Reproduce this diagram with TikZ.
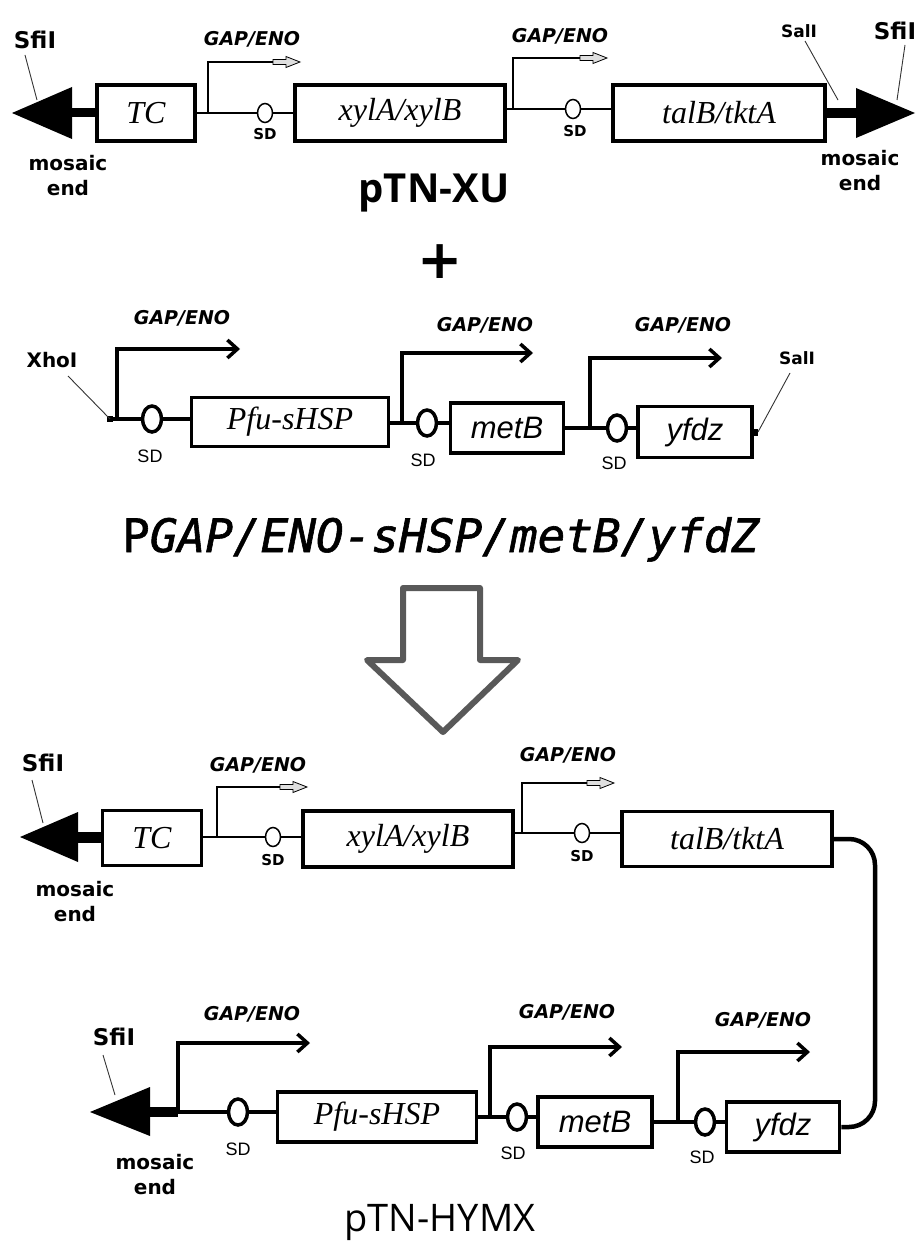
\documentclass[tikz,border=0pt]{standalone}
\usepackage{fontspec}
\setmainfont{Liberation Serif}
\newfontfamily\labfont{DejaVu Sans}
\newfontfamily\openfont{Open Sans}
\newfontfamily\monofont{DejaVu Sans Mono}
\newfontfamily\arialfont{Liberation Sans}
\usetikzlibrary{arrows.meta,shapes.geometric,calc}
\begin{document}
\begin{tikzpicture}[x=1pt,y=-1pt,
  genebox/.style={draw, line width=3.5pt, inner sep=0pt, font=\fontsize{32}{32}\selectfont\itshape},
  sgenebox/.style={genebox, font=\arialfont\fontsize{31}{31}\selectfont\itshape},
  sdA/.style={draw, ellipse, line width=1.5pt, minimum width=15pt, minimum height=19pt, inner sep=0pt},
  sdB/.style={draw, ellipse, line width=3.5pt, minimum width=19pt, minimum height=26pt, inner sep=0pt},
  thinbb/.style={line width=2pt},
  thickbb/.style={line width=4pt},
  prothin/.style={line width=1.5pt},
  prothick/.style={line width=3.5pt, -{Straight Barb[length=10pt,width=18pt]}},
  gaplab/.style={font=\labfont\bfseries\itshape\fontsize{19}{19}\selectfont},
  sdsmall/.style={font=\labfont\bfseries\fontsize{15}{15}\selectfont},
  sdlab/.style={font=\arialfont\fontsize{18}{18}\selectfont},
  sitelab/.style={font=\labfont\bfseries\fontsize{23}{23}\selectfont},
  smallsite/.style={font=\labfont\bfseries\fontsize{17}{17}\selectfont},
  moslab/.style={font=\labfont\bfseries\fontsize{20}{25}\selectfont, align=center},
  ptr/.style={line width=0.9pt, draw=black!80},
  hollowarrow/.pic={\draw[line width=0.8pt, fill=gray!25] (0,-2.5)--(13,-2.5)--(13,-5.5)--(27,0)--(13,5.5)--(13,2.5)--(0,2.5)--cycle;},
]
\fill[white] (0,0) rectangle (919,1244);
\useasboundingbox (0,0) rectangle (919,1244);

% ================= Row 1: pTN-XU =================
\node[genebox, minimum width=98pt, minimum height=56pt] (tc1) at (146,113) {TC};
\node[genebox, minimum width=210pt, minimum height=56pt] (xyl1) at (400,113) {xylA/xylB};
\node[genebox, minimum width=212pt, minimum height=56pt] (tal1) at (719,113) {talB/tktA};
\node[sdA] (sd1a) at (265,113) {};
\node[sdA] (sd1b) at (573,109) {};
% left end
\coordinate (l1b) at (72,113);
\coordinate (l1t) at (12,113);
\fill (l1t) -- ($(l1b)+(0,-26)$) -- ($(l1b)+(0,26)$) -- cycle;
\draw[line width=9pt] (l1b) -- (tc1.west);
% right end
\coordinate (r1b) at (856,113);
\coordinate (r1t) at (915,113);
\fill (r1t) -- ($(r1b)+(0,-25)$) -- ($(r1b)+(0,25)$) -- cycle;
\draw[line width=10pt] (tal1.east) -- (r1b);
% backbone
\draw[thinbb] (tc1.east) -- (sd1a.west);
\draw[thinbb] (sd1a.east) -- (sd1a.east -| xyl1.west);
\draw[thinbb] (sd1b -| xyl1.east) -- (sd1b.west);
\draw[thinbb] (sd1b.east) -- (sd1b.east -| tal1.west);
% promoters
\coordinate (p1a) at (208,113); \coordinate (p1at) at (208,62); \coordinate (p1ah) at (273,62);
\draw[prothin] (p1a) -- (p1at) -- (p1ah);
\pic at (p1ah) {hollowarrow};
\coordinate (p1b) at (513,109); \coordinate (p1bt) at (513,58); \coordinate (p1bh) at (580,58);
\draw[prothin] (p1b) -- (p1bt) -- (p1bh);
\pic at (p1bh) {hollowarrow};
% labels
\node[gaplab] (g1a) at (252,39) {GAP/ENO};
\node[gaplab] (g1b) at (560,36) {GAP/ENO};
\node[sdsmall] (s1a) at (265,134) {SD};
\node[sdsmall] (s1b) at (575,131) {SD};
\node[sitelab] (sfi1l) at (35,40) {SfiI};
\node[sitelab] (sfi1r) at (895,31) {SfiI};
\node[smallsite] (sal1) at (799,31) {SalI};
\coordinate (sfi1lp) at (37,100);
\coordinate (sfi1rp) at (897,100);
\coordinate (sal1p) at (838,100);
\draw[ptr] (25,55) -- (sfi1lp);
\draw[ptr] (905,45) -- (sfi1rp);
\draw[ptr] (805,41) -- (sal1p);
\node[moslab] (me1l) at (68,176) {mosaic\\end};
\node[moslab] (me1r) at (860,171) {mosaic\\end};
\node[font=\openfont\bfseries\fontsize{40}{40}\selectfont, anchor=base] (ptnxu) at (434,202) {pTN-XU};

% plus
\node[font=\labfont\bfseries\fontsize{54}{54}\selectfont] (plus) at (440,262) {+};

% ================= Row 2: insert =================
\coordinate (xs) at (110,419);
\node[sdB] (sd2a) at (152,419) {};
\node[genebox, minimum width=197pt, minimum height=49pt] (pfu2) at (290,422) {Pfu-sHSP};
\node[sdB] (sd2b) at (427,423) {};
\node[sgenebox, minimum width=113pt, minimum height=50pt] (met2) at (507,428) {metB};
\node[sdB] (sd2c) at (617,428) {};
\node[sgenebox, minimum width=114pt, minimum height=51pt] (yf2) at (695,432) {yfdz};
\coordinate (salp2) at (758,432);
% backbone
\draw[thickbb] (xs) -- (sd2a.west);
\fill ($(xs)+(-3,-3)$) rectangle ($(xs)+(3,3)$);
\draw[thickbb] (sd2a.east) -- (sd2a.east -| pfu2.west);
\draw[thickbb] (sd2b -| pfu2.east) -- (sd2b.west);
\draw[thickbb] (sd2b.east) -- (sd2b.east -| met2.west);
\draw[thickbb] (sd2c -| met2.east) -- (sd2c.west);
\draw[thickbb] (sd2c.east) -- (sd2c.east -| yf2.west);
\draw[line width=7pt] (yf2.east) -- (salp2);
% promoters
\coordinate (p2a) at (117,419); \coordinate (p2at) at (117,349); \coordinate (p2ah) at (240,349);
\draw[prothick] (p2a) -- (p2at) -- (p2ah);
\coordinate (p2b) at (402,423); \coordinate (p2bt) at (402,353); \coordinate (p2bh) at (533,353);
\draw[prothick] (p2b) -- (p2bt) -- (p2bh);
\coordinate (p2c) at (590,428); \coordinate (p2ct) at (590,358); \coordinate (p2ch) at (722,358);
\draw[prothick] (p2c) -- (p2ct) -- (p2ch);
% labels
\node[gaplab] (g2a) at (182,318) {GAP/ENO};
\node[gaplab] (g2b) at (485,325) {GAP/ENO};
\node[gaplab] (g2c) at (683,325) {GAP/ENO};
\node[sdlab] (s2a) at (150,456) {SD};
\node[sdlab] (s2b) at (423,460) {SD};
\node[sdlab] (s2c) at (614,463) {SD};
\node[font=\labfont\bfseries\fontsize{20}{20}\selectfont] (xho) at (52,360) {XhoI};
\draw[ptr] (68,376) -- (xs);
\node[smallsite] (sal2) at (797,358) {SalI};
\draw[ptr] (790,373) -- (salp2);

% title
\node[anchor=base west, font=\monofont\addfontfeature{FakeBold=1.3}\fontsize{46}{46}\selectfont, inner sep=0pt] (title) at (122,552) {P{\itshape GAP/ENO-sHSP/metB/yfdZ}};

% big down arrow
\draw[draw=black!65, line width=6pt, line join=round] (403,588) -- (480,588) -- (480,660) -- (518,660) -- (443,732) -- (367,660) -- (403,660) -- cycle;

% ================= Row 3: pTN-HYMX upper =================
\node[genebox, minimum width=99pt, minimum height=55pt] (tc3) at (152,838) {TC};
\node[genebox, minimum width=210pt, minimum height=56pt] (xyl3) at (408,839) {xylA/xylB};
\node[genebox, minimum width=210pt, minimum height=55pt] (tal3) at (727,839) {talB/tktA};
\node[sdA] (sd3a) at (273,837) {};
\node[sdA] (sd3b) at (582,833) {};
\coordinate (l3b) at (78,837);
\coordinate (l3t) at (20,837);
\fill (l3t) -- ($(l3b)+(0,-25)$) -- ($(l3b)+(0,25)$) -- cycle;
\draw[line width=11pt] (l3b) -- (l3b -| tc3.west);
\draw[thinbb] (tc3.east |- sd3a) -- (sd3a.west);
\draw[thinbb] (sd3a.east) -- (sd3a.east -| xyl3.west);
\draw[thinbb] (sd3b -| xyl3.east) -- (sd3b.west);
\draw[thinbb] (sd3b.east) -- (sd3b.east -| tal3.west);
\coordinate (p3a) at (217,837); \coordinate (p3at) at (217,787); \coordinate (p3ah) at (280,787);
\draw[prothin] (p3a) -- (p3at) -- (p3ah);
\pic at (p3ah) {hollowarrow};
\coordinate (p3b) at (522,833); \coordinate (p3bt) at (522,783); \coordinate (p3bh) at (587,783);
\draw[prothin] (p3b) -- (p3bt) -- (p3bh);
\pic at (p3bh) {hollowarrow};
\node[gaplab] (g3a) at (258,765) {GAP/ENO};
\node[gaplab] (g3b) at (568,755) {GAP/ENO};
\node[sdsmall] (s3a) at (273,860) {SD};
\node[sdsmall] (s3b) at (582,856) {SD};
\node[sitelab] (sfi3) at (43,763) {SfiI};
\coordinate (sfi3p) at (43,823);
\draw[ptr] (32,780) -- (sfi3p);
\node[moslab] (me3) at (75,902) {mosaic\\end};

% ================= Row 4: pTN-HYMX lower =================
\node[sdB] (sd4a) at (238,1112) {};
\node[genebox, minimum width=199pt, minimum height=50pt] (pfu4) at (377,1117) {Pfu-sHSP};
\node[sdB] (sd4b) at (517,1117) {};
\node[sgenebox, minimum width=114pt, minimum height=50pt] (met4) at (595,1122) {metB};
\node[sdB] (sd4c) at (705,1122) {};
\node[sgenebox, minimum width=113pt, minimum height=50pt] (yf4) at (783,1127) {yfdz};
\coordinate (l4b) at (150,1112);
\coordinate (l4t) at (90,1112);
\coordinate (l4s) at (178,1112);
\fill (l4t) -- ($(l4b)+(0,-25)$) -- ($(l4b)+(0,24)$) -- cycle;
\draw[line width=10pt] (l4b) -- (l4s);
\draw[thickbb] (l4s) -- (sd4a.west);
\draw[thickbb] (sd4a.east) -- (sd4a.east -| pfu4.west);
\draw[thickbb] (sd4b -| pfu4.east) -- (sd4b.west);
\draw[thickbb] (sd4b.east) -- (sd4b.east -| met4.west);
\draw[thickbb] (sd4c -| met4.east) -- (sd4c.west);
\draw[thickbb] (sd4c.east) -- (sd4c.east -| yf4.west);
\coordinate (p4a) at (178,1112); \coordinate (p4at) at (178,1043); \coordinate (p4ah) at (310,1043);
\draw[prothick] (p4a) -- (p4at) -- (p4ah);
\coordinate (p4b) at (490,1117); \coordinate (p4bt) at (490,1047); \coordinate (p4bh) at (622,1047);
\draw[prothick] (p4b) -- (p4bt) -- (p4bh);
\coordinate (p4c) at (678,1122); \coordinate (p4ct) at (678,1052); \coordinate (p4ch) at (810,1052);
\draw[prothick] (p4c) -- (p4ct) -- (p4ch);
\node[gaplab] (g4a) at (252,1014) {GAP/ENO};
\node[gaplab] (g4b) at (567,1012) {GAP/ENO};
\node[gaplab] (g4c) at (763,1020) {GAP/ENO};
\node[sdlab] (s4a) at (238,1149) {SD};
\node[sdlab] (s4b) at (513,1153) {SD};
\node[sdlab] (s4c) at (702,1157) {SD};
\node[sitelab] (sfi4) at (114,1037) {SfiI};
\coordinate (sfi4p) at (115,1095);
\draw[ptr] (103,1055) -- (sfi4p);
\node[moslab] (me4) at (155,1175) {mosaic\\end};
\node[font=\openfont\fontsize{38}{38}\selectfont, anchor=base] (ptnhymx) at (440,1231) {pTN-HYMX};

% joining connector
\coordinate (rt) at (875,0);
\draw[line width=4.5pt, rounded corners=26pt] (tal3.east) -- (tal3.east -| rt) -- (yf4.east -| rt) -- (yf4.east);
\end{tikzpicture}
\end{document}
